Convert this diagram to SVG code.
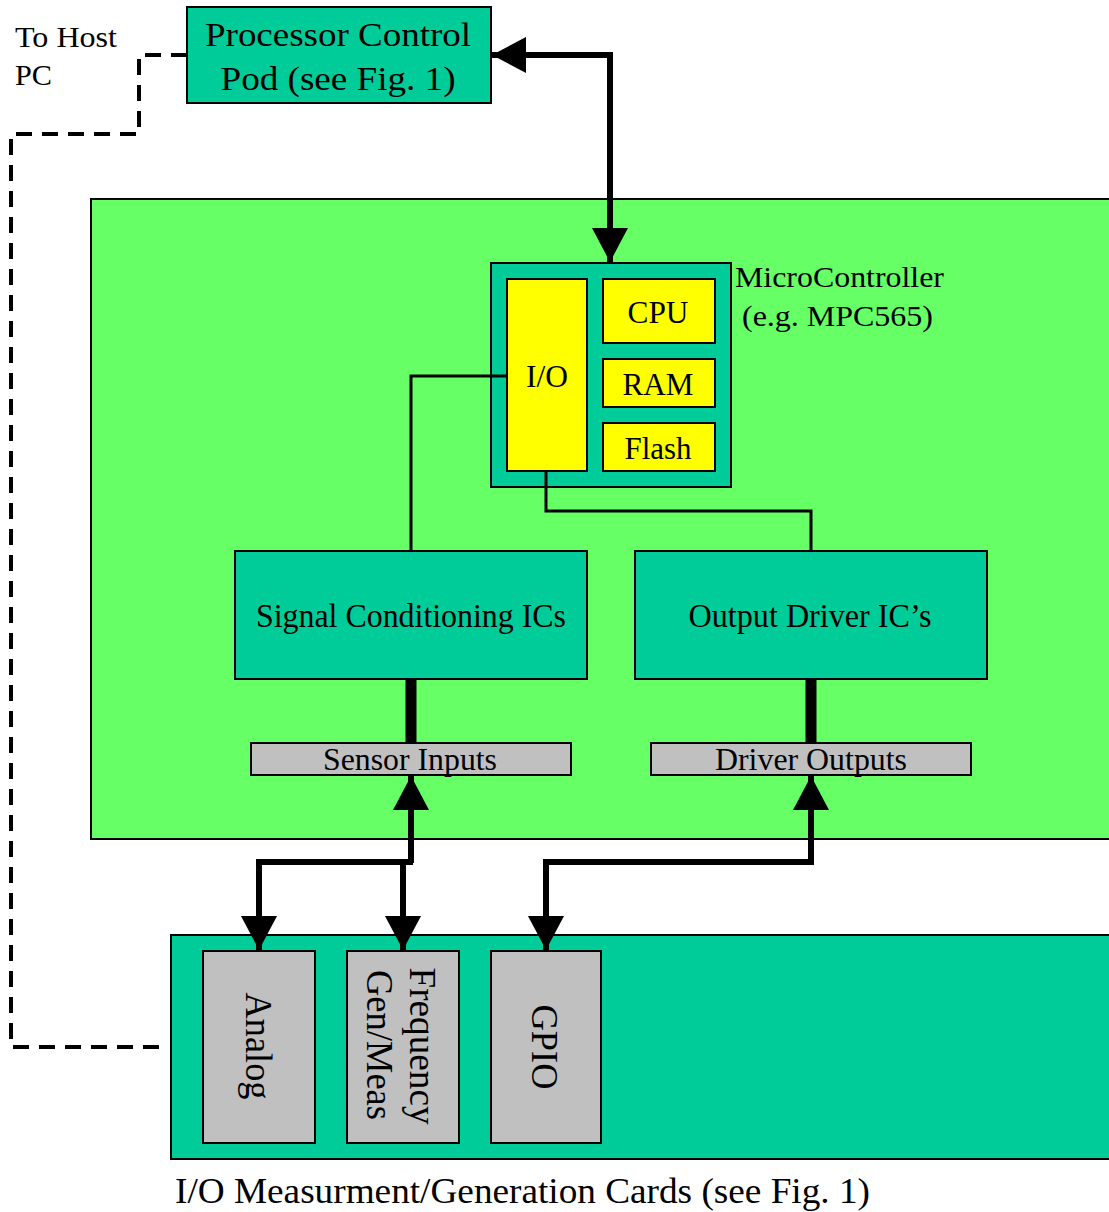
<svg xmlns="http://www.w3.org/2000/svg" width="1109" height="1212" viewBox="0 0 1109 1212">
  <style>
    .t { font-family: "Liberation Serif", "Times New Roman", serif; fill: #000; }
    .teal { fill: #00cc99; stroke: #000; stroke-width: 2; }
    .chip { fill: #ffff00; stroke: #000; stroke-width: 2; }
    .grey { fill: #c0c0c0; stroke: #000; stroke-width: 2; }
    .wire { fill: none; stroke: #000; stroke-width: 3; }
    .bus { fill: none; stroke: #000; stroke-width: 6; }
    .bar { fill: none; stroke: #000; stroke-width: 11; }
    .dash { fill: none; stroke: #000; stroke-width: 4; stroke-dasharray: 16 10; }
  </style>
  <defs>
    <marker id="head" markerUnits="userSpaceOnUse" markerWidth="36" markerHeight="36" viewBox="0 0 36 36" refX="34" refY="18" orient="auto-start-reverse">
      <path d="M0,0 L34,18 L0,36 Z" fill="#000"/>
    </marker>
  </defs>

  <rect width="1109" height="1212" fill="#fff"/>

  <!-- target board -->
  <g id="board">
    <rect x="91" y="199" width="1030" height="640" fill="#66ff66" stroke="#000" stroke-width="2"/>
  </g>

  <!-- I/O card rack -->
  <g id="cards">
    <rect x="171" y="935" width="950" height="224" class="teal"/>
    <text class="t" x="175" y="1203" font-size="35" textLength="695" lengthAdjust="spacingAndGlyphs">I/O Measurment/Generation Cards (see Fig. 1)</text>
  </g>

  <g id="host-label">
    <text class="t" x="15" y="47" font-size="30" textLength="102" lengthAdjust="spacingAndGlyphs">To Host</text>
    <text class="t" x="15" y="85" font-size="30" textLength="37" lengthAdjust="spacingAndGlyphs">PC</text>
  </g>

  <g id="pod">
    <rect x="187" y="7" width="304" height="96" class="teal"/>
    <text class="t" x="338" y="46" font-size="34" text-anchor="middle" textLength="266" lengthAdjust="spacingAndGlyphs">Processor Control</text>
    <text class="t" x="338" y="90" font-size="34" text-anchor="middle" textLength="235" lengthAdjust="spacingAndGlyphs">Pod (see Fig. 1)</text>
  </g>

  <g id="mcu">
    <rect x="491" y="263" width="240" height="224" class="teal"/>
    <text class="t" x="735" y="287" font-size="30" textLength="209" lengthAdjust="spacingAndGlyphs">MicroController</text>
    <text class="t" x="742" y="326" font-size="30" textLength="191" lengthAdjust="spacingAndGlyphs">(e.g. MPC565)</text>
  </g>
  <g id="io">
    <rect x="507" y="279" width="80" height="192" class="chip"/>
    <text class="t" x="547" y="387" font-size="31" text-anchor="middle" textLength="42" lengthAdjust="spacingAndGlyphs">I/O</text>
  </g>
  <g id="cpu">
    <rect x="603" y="279" width="112" height="64" class="chip"/>
    <text class="t" x="658" y="323" font-size="31" text-anchor="middle" textLength="61" lengthAdjust="spacingAndGlyphs">CPU</text>
  </g>
  <g id="ram">
    <rect x="603" y="359" width="112" height="48" class="chip"/>
    <text class="t" x="658" y="395" font-size="31" text-anchor="middle" textLength="71" lengthAdjust="spacingAndGlyphs">RAM</text>
  </g>
  <g id="flash">
    <rect x="603" y="423" width="112" height="48" class="chip"/>
    <text class="t" x="658" y="459" font-size="31" text-anchor="middle" textLength="67" lengthAdjust="spacingAndGlyphs">Flash</text>
  </g>

  <g id="signal-conditioning">
    <rect x="235" y="551" width="352" height="128" class="teal"/>
    <text class="t" x="411" y="627" font-size="33" text-anchor="middle" textLength="310" lengthAdjust="spacingAndGlyphs">Signal Conditioning ICs</text>
  </g>
  <g id="output-driver">
    <rect x="635" y="551" width="352" height="128" class="teal"/>
    <text class="t" x="810" y="627" font-size="33" text-anchor="middle" textLength="243" lengthAdjust="spacingAndGlyphs">Output Driver IC’s</text>
  </g>

  <g id="sensor-inputs">
    <rect x="251" y="743" width="320" height="32" class="grey"/>
    <text class="t" x="410" y="770" font-size="31" text-anchor="middle" textLength="174" lengthAdjust="spacingAndGlyphs">Sensor Inputs</text>
  </g>
  <g id="driver-outputs">
    <rect x="651" y="743" width="320" height="32" class="grey"/>
    <text class="t" x="811" y="770" font-size="31" text-anchor="middle" textLength="192" lengthAdjust="spacingAndGlyphs">Driver Outputs</text>
  </g>

  <g id="analog">
    <rect x="203" y="951" width="112" height="192" class="grey"/>
    <text class="t" font-size="38" text-anchor="middle" textLength="107" lengthAdjust="spacingAndGlyphs" transform="translate(246,1046) rotate(90)">Analog</text>
  </g>
  <g id="frequency">
    <rect x="347" y="951" width="112" height="192" class="grey"/>
    <text class="t" font-size="38" text-anchor="middle" textLength="157" lengthAdjust="spacingAndGlyphs" transform="translate(410,1046) rotate(90)">Frequency</text>
    <text class="t" font-size="38" text-anchor="middle" textLength="150" lengthAdjust="spacingAndGlyphs" transform="translate(367,1045) rotate(90)">Gen/Meas</text>
  </g>
  <g id="gpio">
    <rect x="491" y="951" width="110" height="192" class="grey"/>
    <text class="t" font-size="38" text-anchor="middle" textLength="85" lengthAdjust="spacingAndGlyphs" transform="translate(532,1047) rotate(90)">GPIO</text>
  </g>

  <g id="connectors">
    <!-- host link (dashed) -->
    <path class="dash" d="M187,55 H139 V134 H11 V1047 H163"/>
    <!-- pod to microcontroller -->
    <path class="bus" d="M492,55 H610 V262" marker-start="url(#head)" marker-end="url(#head)" stroke-width="5"/>
    <!-- I/O to conditioning and driver ICs -->
    <path class="wire" d="M507,376 H411 V550"/>
    <path class="wire" d="M546,472 V511 H811 V550"/>
    <!-- IC to connector bars -->
    <path class="bar" d="M411,680 V742"/>
    <path class="bar" d="M811,680 V742"/>
    <!-- sensor inputs to analog / frequency cards -->
    <path class="bus" d="M411,863 V776" marker-end="url(#head)"/>
    <path class="bus" d="M413,862 H259 V950" marker-end="url(#head)"/>
    <path class="bus" d="M403,862 V950" marker-end="url(#head)"/>
    <!-- driver outputs to GPIO card -->
    <path class="bus" d="M811,862 V776" marker-end="url(#head)"/>
    <path class="bus" d="M814,862 H546 V950" marker-end="url(#head)"/>
  </g>
</svg>
